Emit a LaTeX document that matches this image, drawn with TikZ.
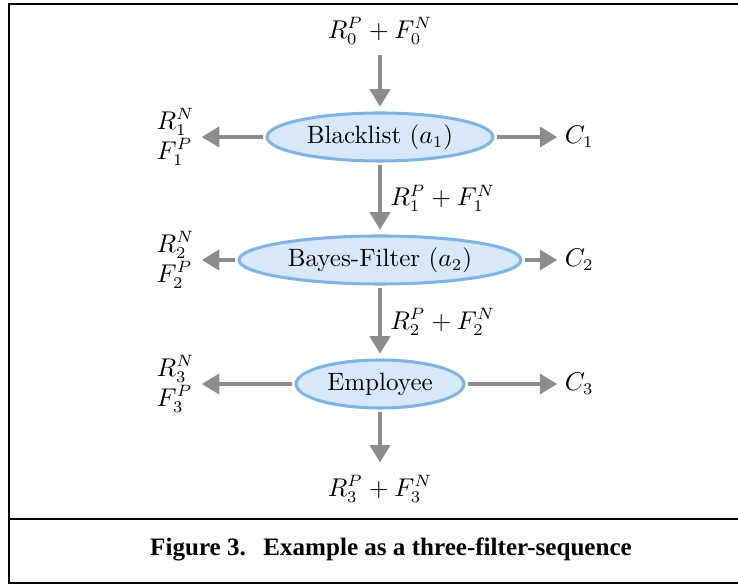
\documentclass[tikz,border=0pt]{standalone}
\usepackage{fontspec}
\newfontfamily\capfont{Liberation Serif}
\usetikzlibrary{shapes,arrows.meta,positioning}
\usepackage{xcolor}
\definecolor{filterfill}{RGB}{214,232,250}
\definecolor{filterline}{RGB}{128,178,226}
\definecolor{flowgray}{RGB}{140,140,140}

\begin{document}
\begin{tikzpicture}[x=0.015cm, y=-0.015cm,
        every node/.style={font=\fontsize{10.7}{12.8}\selectfont},
        filter/.style={ellipse, draw=filterline, fill=filterfill, line width=1.3pt,
            inner sep=0pt, minimum height=0.72cm},
        flow/.style={draw=flowgray, line width=2.1pt, shorten <=1pt, shorten >=2pt,
            -{Triangle[length=7.5pt,width=8.5pt]}},
        side/.style={inner sep=1pt}]
            \def\X{380}
            \def\lX{197}
            \def\rX{562}

            \useasboundingbox (0,0) rectangle (738,584);
            \draw[line width=0.9pt] (9,584) -- (9,4) -- (738,4);
            \draw[line width=0.9pt] (9,519) -- (738,519);
            \draw[line width=0.9pt] (9,583) -- (738,583);

            \node (in) at (\X,31) {$R_0^P + F_0^N$};
            \node[filter, minimum width=3.39cm] (f1) at (\X,137) {Blacklist ($a_1$)};
            \node[filter, minimum width=4.23cm] (f2) at (\X,260) {Bayes-Filter ($a_2$)};
            \node[filter, minimum width=2.52cm] (f3) at (\X,384) {Employee};
            \node (out) at (\X,489) {$R_3^P + F_3^N$};

            \draw[flow] (in) -- (f1);
            \draw[flow] (f1) -- node[right] {$R_1^P + F_1^N$} (f2);
            \draw[flow] (f2) -- node[right] {$R_2^P + F_2^N$} (f3);
            \draw[flow] (f3) -- (out);

            \foreach \i/\Y in {1/137, 2/260, 3/384} {
                \node[side, anchor=east, align=left] (n\i) at (\lX,\Y) {$R_\i^N$\\$F_\i^P$};
                \node[side, anchor=west] (c\i) at (\rX,\Y) {$C_\i$};
                \draw[flow] (f\i.west) -- (n\i.east);
                \draw[flow] (f\i.east) -- (c\i.west);
            }

            \node[font=\capfont\bfseries\fontsize{10.7}{13}\selectfont] (cap) at (391,549)
                {Figure 3.\hspace{0.7em}Example as a three-filter-sequence};
        \end{tikzpicture}
\end{document}
